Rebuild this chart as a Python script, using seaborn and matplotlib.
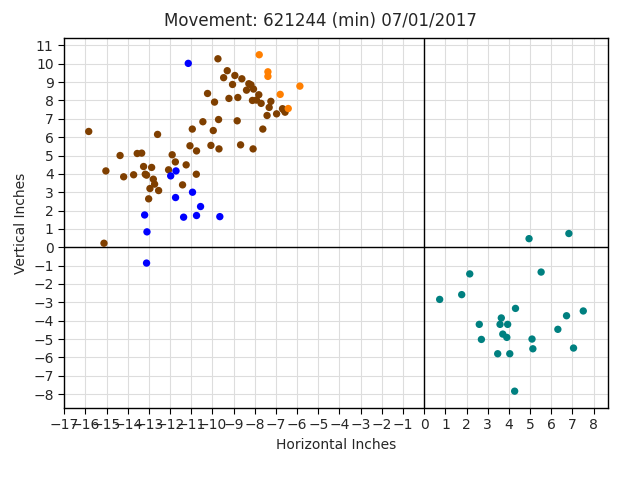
import matplotlib
matplotlib.use("Agg")
import matplotlib.pyplot as plt
import numpy as np
import pandas as pd
import seaborn as sns

TITLE = "Movement: 621244 (min) 07/01/2017"

brown_x = [-15.84, -15.12, -15.03, -14.36, -14.19, -13.72, -13.55, -13.34, -13.25, -13.17,
           -13.11, -12.87, -12.79, -12.73, -12.95, -12.54, -13.01, -12.59, -11.90, -11.75,
           -12.07, -11.24, -11.41, -10.76, -11.06, -10.75, -10.95, -10.45, -10.07, -9.69,
           -9.96, -9.71, -9.90, -10.23, -9.74, -9.47, -9.30, -9.22, -9.05, -8.94,
           -8.80, -8.83, -8.67, -8.61, -8.39, -8.28, -8.18, -8.06, -8.11, -7.92,
           -7.81, -8.08, -7.70, -7.62, -7.32, -7.24, -7.42, -6.97, -6.69, -6.64, -6.57]
brown_y = [6.31, 0.22, 4.16, 5.00, 3.84, 3.95, 5.11, 5.13, 4.40, 3.98,
           3.93, 4.35, 3.71, 3.44, 3.20, 3.09, 2.64, 6.15, 5.04, 4.65,
           4.22, 4.49, 3.40, 3.98, 5.53, 5.25, 6.44, 6.84, 5.55, 5.36,
           6.36, 6.96, 7.91, 8.38, 10.27, 9.24, 9.62, 8.11, 8.87, 9.36,
           8.16, 6.89, 5.58, 9.18, 8.56, 8.91, 8.85, 8.62, 8.00, 8.02,
           8.31, 5.36, 7.84, 6.44, 7.62, 7.95, 7.18, 7.27, 7.55, 7.49, 7.36]

orange_x = [-7.79, -7.38, -7.38, -6.80, -5.87, -6.42]
orange_y = [10.49, 9.56, 9.31, 8.33, 8.78, 7.56]

blue_x = [-11.14, -11.97, -11.72, -10.94, -11.74, -10.56, -13.20, -11.36, -10.75, -9.65, -13.09, -13.11]
blue_y = [10.02, 3.89, 4.16, 3.00, 2.71, 2.22, 1.76, 1.64, 1.73, 1.67, 0.84, -0.86]

teal_x = [4.95, 6.83, 2.15, 5.52, 0.73, 1.77, 4.31, 7.51, 6.72, 2.60, 3.64, 3.58,
          3.94, 6.31, 3.71, 3.90, 2.70, 5.09, 5.13, 7.05, 3.47, 4.04, 4.27]
teal_y = [0.47, 0.75, -1.45, -1.35, -2.84, -2.58, -3.33, -3.47, -3.73, -4.20, -3.85, -4.20,
          -4.20, -4.47, -4.73, -4.91, -5.02, -5.00, -5.53, -5.49, -5.80, -5.80, -7.84]

groups = ["brown", "orange", "blue", "teal"]
colors = {"brown": "#7f3f00", "orange": "#ff7f00", "blue": "#0000ff", "teal": "#008080"}


def build_frame() -> pd.DataFrame:
    parts = []
    for name, xs, ys in [("brown", brown_x, brown_y), ("orange", orange_x, orange_y),
                         ("blue", blue_x, blue_y), ("teal", teal_x, teal_y)]:
        parts.append(pd.DataFrame({"x": xs, "y": ys, "group": name}))
    return pd.concat(parts, ignore_index=True)


def main() -> None:
    sns.set_style("ticks")
    plt.rcParams["font.family"] = ["DejaVu Sans"]
    df = build_frame()

    fig, ax = plt.subplots(figsize=(6.4, 4.8), dpi=100)
    fig.subplots_adjust(left=0.1, right=0.95, top=0.921, bottom=0.15)

    sns.scatterplot(data=df, x="x", y="y", hue="group", hue_order=groups,
                    palette=colors, s=28, linewidth=0, legend=False, ax=ax, zorder=3)

    ax.axhline(0, color="black", lw=1, zorder=2)
    ax.axvline(0, color="black", lw=1, zorder=2)

    ax.set_xticks(np.arange(-17, 9, 1))
    ax.set_yticks(np.arange(-8, 12, 1))
    ax.grid(True, color="#dddddd", lw=0.8, zorder=0)
    ax.set_axisbelow(True)
    ax.tick_params(direction="out", length=4, labelsize=10, color="black")
    for sp in ax.spines.values():
        sp.set_color("black")
        sp.set_linewidth(1)

    ax.set_xlabel("Horizontal Inches", fontsize=10)
    ax.set_ylabel("Vertical Inches", fontsize=10)
    fig.suptitle(TITLE, fontsize=12, y=0.975)

    fig.savefig("out.png", dpi=100)


if __name__ == "__main__":
    main()
